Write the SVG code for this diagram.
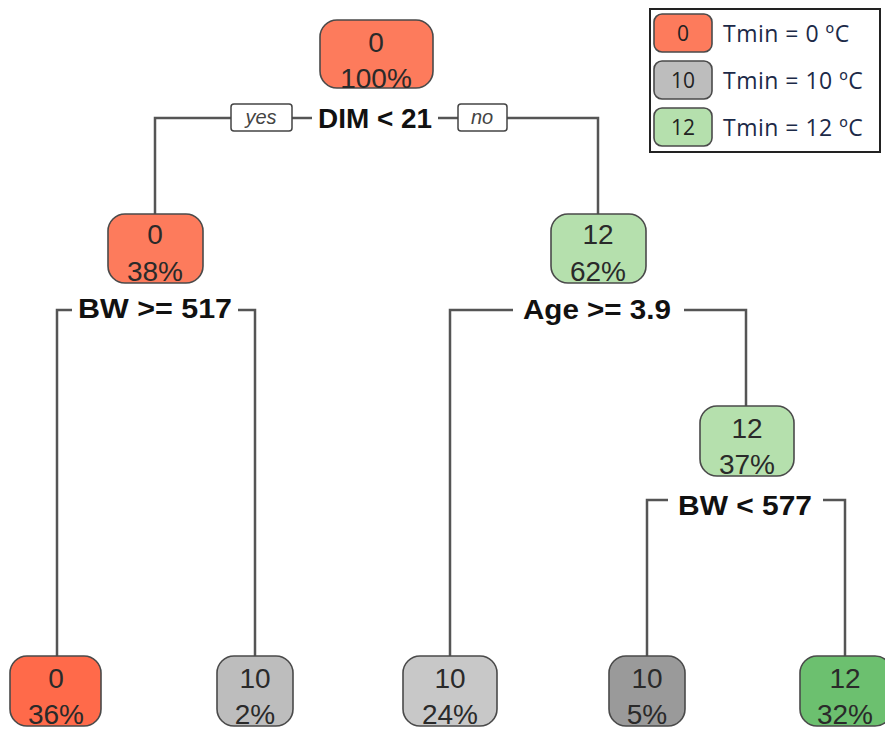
<svg xmlns="http://www.w3.org/2000/svg" width="885" height="735" viewBox="0 0 885 735">
<style>
.bg{fill:#fff}
.conn{fill:none;stroke:#555;stroke-width:2.5}
.node{stroke:#4a4a4a;stroke-width:1.6}
.nt{font-family:"Liberation Sans",Arial,sans-serif;font-size:28px;fill:#2a2a2a;text-anchor:middle}
.split{font-family:"Liberation Sans",Arial,sans-serif;font-size:27px;font-weight:bold;fill:#111;text-anchor:middle}
.lab{fill:#fff;stroke:#444;stroke-width:1.5}
.labt{font-family:"Liberation Sans",Arial,sans-serif;font-size:20px;font-style:italic;fill:#444;text-anchor:middle}
.leg{font-family:"Open Sans","Liberation Sans",sans-serif;font-size:23px;letter-spacing:0.5px;fill:#1c2a48}
.legn{font-family:"Open Sans","Liberation Sans",sans-serif;font-size:21px;fill:#222;text-anchor:middle}
.red{fill:#fd7b5c}.red2{fill:#ff6a4a}.g1{fill:#bdbdbd}.g2{fill:#c8c8c8}.g3{fill:#9a9a9a}.gr{fill:#b5e0ad}.gr2{fill:#6cc06f}
</style>
<rect class="bg" x="0" y="0" width="885" height="735"/>
<g id="connectors">
<path class="conn" d="M231 118 H155 V214"/>
<path class="conn" d="M292 118 H312"/>
<path class="conn" d="M438 118 H458"/>
<path class="conn" d="M507 118 H598 V214"/>
<path class="conn" d="M72 310 H57 V657"/>
<path class="conn" d="M238 310 H255 V657"/>
<path class="conn" d="M513 310 H450 V656"/>
<path class="conn" d="M684 310 H746 V406"/>
<path class="conn" d="M668 500 H647 V656"/>
<path class="conn" d="M823 500 H845 V656"/>
</g>
<g id="labels">
<rect class="lab" x="231" y="104" width="61" height="27" rx="3"/>
<text class="labt" x="261" y="124">yes</text>
<rect class="lab" x="458" y="104" width="49" height="27" rx="3"/>
<text class="labt" x="482" y="124">no</text>
</g>
<g id="n1">
<rect class="node red" x="320" y="20" width="113" height="68" rx="17"/>
<text class="nt" x="376" y="52">0</text>
<text class="nt" x="376" y="88">100%</text>
<text class="split" x="375" y="128" textLength="114" lengthAdjust="spacingAndGlyphs">DIM &lt; 21</text>
</g>
<g id="n2">
<rect class="node red" x="108" y="214" width="95" height="69" rx="17"/>
<text class="nt" x="155" y="244">0</text>
<text class="nt" x="155" y="281">38%</text>
<text class="split" x="155" y="318" textLength="154" lengthAdjust="spacingAndGlyphs">BW &gt;= 517</text>
</g>
<g id="n3">
<rect class="node gr" x="551" y="214" width="95" height="69" rx="17"/>
<text class="nt" x="598" y="244">12</text>
<text class="nt" x="598" y="281">62%</text>
<text class="split" x="597" y="319" textLength="148" lengthAdjust="spacingAndGlyphs">Age &gt;= 3.9</text>
</g>
<g id="n7">
<rect class="node gr" x="700" y="406" width="94" height="70" rx="17"/>
<text class="nt" x="747" y="438">12</text>
<text class="nt" x="747" y="474">37%</text>
<text class="split" x="745" y="515" textLength="134" lengthAdjust="spacingAndGlyphs">BW &lt; 577</text>
</g>
<g id="n4">
<rect class="node red2" x="10" y="656" width="91" height="70" rx="17"/>
<text class="nt" x="56" y="688">0</text>
<text class="nt" x="56" y="724">36%</text>
</g>
<g id="n5">
<rect class="node g1" x="217" y="656" width="76" height="70" rx="17"/>
<text class="nt" x="255" y="688">10</text>
<text class="nt" x="255" y="724">2%</text>
</g>
<g id="n6">
<rect class="node g2" x="403" y="656" width="94" height="70" rx="17"/>
<text class="nt" x="450" y="688">10</text>
<text class="nt" x="450" y="724">24%</text>
</g>
<g id="n14">
<rect class="node g3" x="609" y="656" width="76" height="70" rx="17"/>
<text class="nt" x="647" y="688">10</text>
<text class="nt" x="647" y="724">5%</text>
</g>
<g id="n15">
<rect class="node gr2" x="800" y="656" width="92" height="70" rx="17"/>
<text class="nt" x="845" y="688">12</text>
<text class="nt" x="845" y="724">32%</text>
</g>
<g id="legend">
<rect x="650" y="9" width="230" height="143" fill="#fff" stroke="#222" stroke-width="2"/>
<rect class="node red" x="654" y="14" width="58" height="38" rx="8"/>
<text class="legn" x="683" y="41">0</text>
<text class="leg" x="723" y="42">Tmin = 0 ºC</text>
<rect class="node g1" x="654" y="61" width="58" height="38" rx="8"/>
<text class="legn" x="683" y="88">10</text>
<text class="leg" x="723" y="89">Tmin = 10 ºC</text>
<rect class="node gr" x="654" y="108" width="58" height="38" rx="8"/>
<text class="legn" x="683" y="135">12</text>
<text class="leg" x="723" y="136">Tmin = 12 ºC</text>
</g>
</svg>
